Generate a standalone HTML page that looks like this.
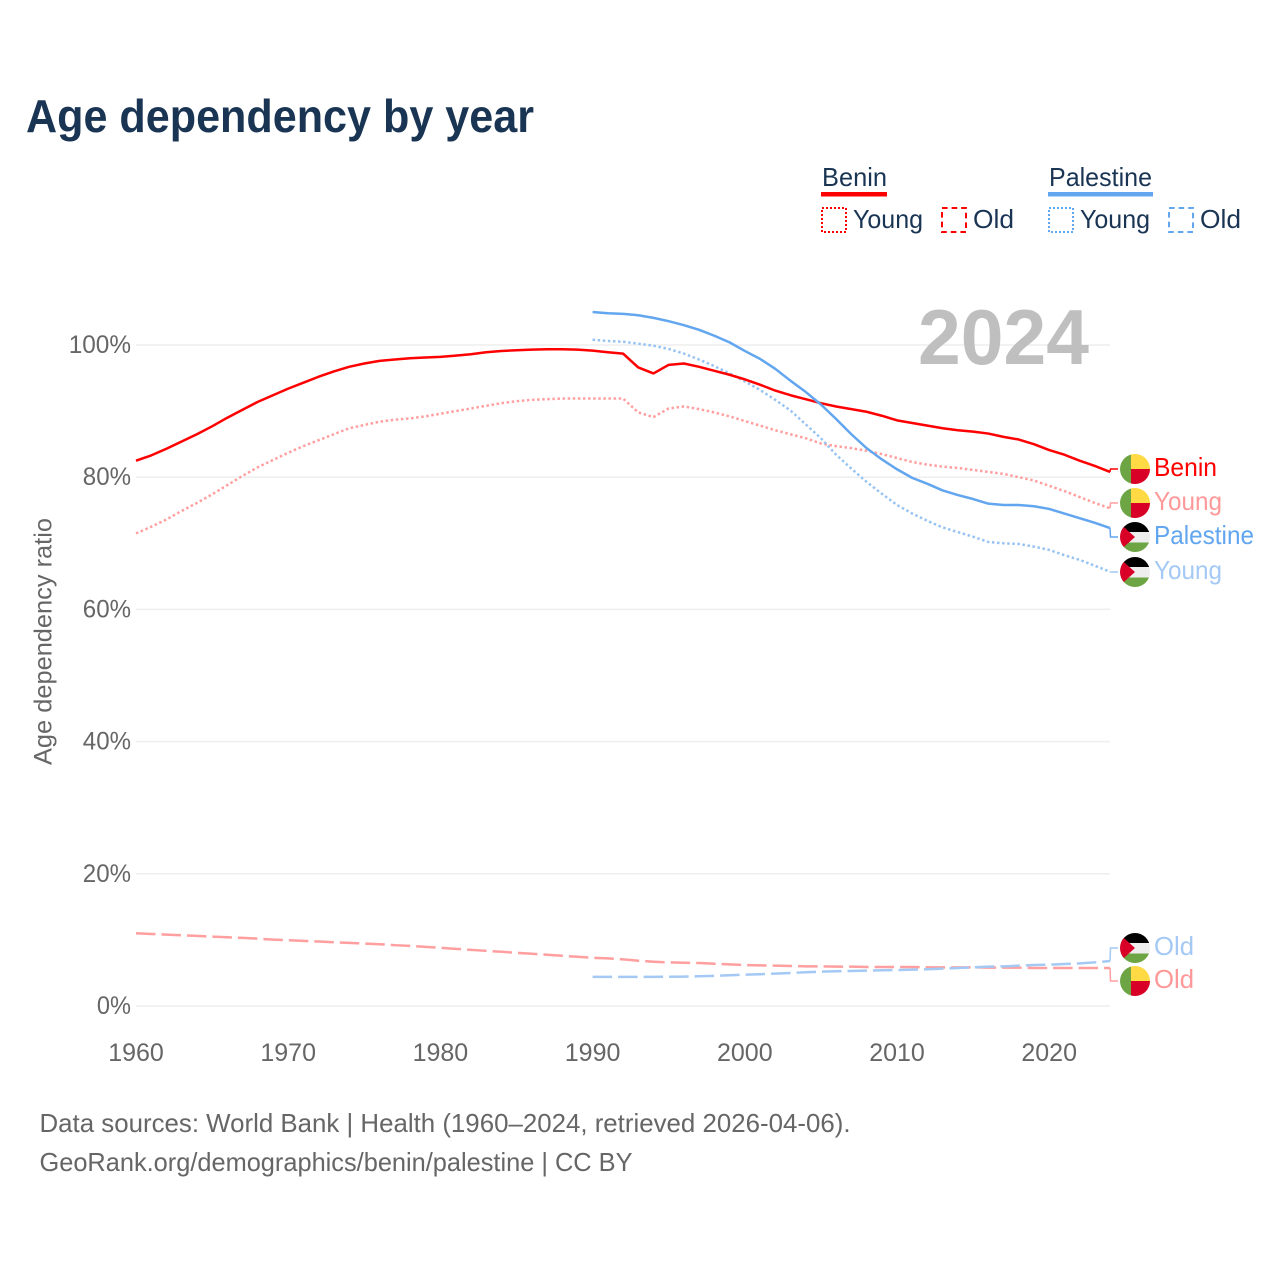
<!DOCTYPE html>
<html lang="en">
<head>
<meta charset="utf-8">
<title>Age dependency by year</title>
<style>
html,body{margin:0;padding:0;background:#fff}
svg{display:block}
text{font-family:"Liberation Sans",sans-serif}
.lg{font-size:26px;fill:#1a3554}
.tick{font-size:25px;fill:#666}
.end{font-size:26px}
.foot{font-size:26px;fill:#666}
</style>
</head>
<body>
<svg id="chart" width="1280" height="1280" viewBox="0 0 1280 1280" xmlns="http://www.w3.org/2000/svg">
  <defs>
    <clipPath id="flag-clip"><circle cx="0" cy="0" r="15"/></clipPath>
    <g id="flag-benin">
      <g clip-path="url(#flag-clip)">
        <rect x="-15" y="-15" width="11" height="30" fill="#6da544"/>
        <rect x="-4" y="-15" width="19" height="15" fill="#ffda44"/>
        <rect x="-4" y="0" width="19" height="15" fill="#d80027"/>
      </g>
    </g>
    <g id="flag-palestine">
      <g clip-path="url(#flag-clip)">
        <rect x="-15" y="-15" width="30" height="10" fill="#000"/>
        <rect x="-15" y="-5" width="30" height="10.5" fill="#eee"/>
        <rect x="-15" y="5.5" width="30" height="9.5" fill="#6da544"/>
        <path d="M-15,-15 L-14,-12.5 L0,0 L-14,12.5 L-15,15 Z" fill="#d80027"/>
      </g>
    </g>
  </defs>

  <text x="26" y="132" font-size="46" font-weight="700" fill="#1a3554" textLength="508" lengthAdjust="spacingAndGlyphs">Age dependency by year</text>

  <g>
    <g>
      <text class="lg" x="822" y="186" textLength="65" lengthAdjust="spacingAndGlyphs">Benin</text>
      <rect x="821" y="192" width="66" height="4.5" fill="#ff0000"/>
    </g>
    <g>
      <rect x="822" y="208" width="24" height="24" fill="none" stroke="#ff0000" stroke-width="2" stroke-dasharray="2 2"/>
      <text class="lg" x="853" y="228" textLength="70" lengthAdjust="spacingAndGlyphs">Young</text>
    </g>
    <g>
      <rect x="942" y="208" width="24" height="24" fill="none" stroke="#ff0000" stroke-width="2" stroke-dasharray="5.6 4"/>
      <text class="lg" x="973" y="228" textLength="41" lengthAdjust="spacingAndGlyphs">Old</text>
    </g>
    <g>
      <text class="lg" x="1049" y="186" textLength="103" lengthAdjust="spacingAndGlyphs">Palestine</text>
      <rect x="1048" y="192" width="105" height="4.5" fill="#62a6ef"/>
    </g>
    <g>
      <rect x="1049" y="208" width="24" height="24" fill="none" stroke="#62a6ef" stroke-width="2" stroke-dasharray="2 2"/>
      <text class="lg" x="1080" y="228" textLength="70" lengthAdjust="spacingAndGlyphs">Young</text>
    </g>
    <g>
      <rect x="1169" y="208" width="24" height="24" fill="none" stroke="#62a6ef" stroke-width="2" stroke-dasharray="5.6 4"/>
      <text class="lg" x="1200" y="228" textLength="41" lengthAdjust="spacingAndGlyphs">Old</text>
    </g>
  </g>

  <g id="grid"></g>
  <text x="918" y="364" font-size="78" font-weight="700" fill="#bfbfbf" textLength="171" lengthAdjust="spacingAndGlyphs">2024</text>
  <g id="y-ticks"></g>
  <g id="x-ticks"></g>
  <text transform="translate(51.5,765) rotate(-90)" x="0" y="0" font-size="25" fill="#666" textLength="247" lengthAdjust="spacingAndGlyphs">Age dependency ratio</text>

  <g id="series"></g>
  <g id="connectors"></g>

  <g>
    <use href="#flag-benin" x="1135" y="469"/>
    <text class="end" x="1154" y="476" fill="#ff0000" textLength="63" lengthAdjust="spacingAndGlyphs">Benin</text>
    <use href="#flag-benin" x="1135" y="503"/>
    <text class="end" x="1154" y="510" fill="#ff9999" textLength="68" lengthAdjust="spacingAndGlyphs">Young</text>
    <use href="#flag-palestine" x="1135" y="537"/>
    <text class="end" x="1154" y="544" fill="#62a6ef" textLength="100" lengthAdjust="spacingAndGlyphs">Palestine</text>
    <use href="#flag-palestine" x="1135" y="572"/>
    <text class="end" x="1154" y="579" fill="#a4c9f4" textLength="68" lengthAdjust="spacingAndGlyphs">Young</text>
    <use href="#flag-palestine" x="1135" y="948"/>
    <text class="end" x="1154" y="955" fill="#a4c9f4" textLength="40" lengthAdjust="spacingAndGlyphs">Old</text>
    <use href="#flag-benin" x="1135" y="981"/>
    <text class="end" x="1154" y="988" fill="#ff9999" textLength="40" lengthAdjust="spacingAndGlyphs">Old</text>
  </g>

  <text class="foot" x="39.5" y="1132" textLength="811" lengthAdjust="spacingAndGlyphs">Data sources: World Bank | Health (1960–2024, retrieved 2026-04-06).</text>
  <text class="foot" x="39.5" y="1171" textLength="593" lengthAdjust="spacingAndGlyphs">GeoRank.org/demographics/benin/palestine | CC BY</text>
</svg>

<script>
var xTickYears = [1960, 1970, 1980, 1990, 2000, 2010, 2020];
var yTickValues = [0, 20, 40, 60, 80, 100];

var beninStartYear = 1960;
var palestineStartYear = 1990;

var beninTotal = [82.5,83.3,84.3,85.4,86.5,87.7,89.0,90.2,91.4,92.4,
  93.4,94.3,95.2,96.0,96.7,97.2,97.6,97.8,98.0,98.1,
  98.2,98.4,98.6,98.9,99.1,99.2,99.3,99.35,99.35,99.3,
  99.15,98.9,98.7,96.6,95.7,97.0,97.2,96.7,96.1,95.5,
  94.8,94.0,93.1,92.4,91.8,91.2,90.7,90.3,89.9,89.3,
  88.6,88.2,87.8,87.4,87.1,86.9,86.6,86.1,85.7,85.0,
  84.1,83.4,82.5,81.7,80.8];

var beninYoung = [71.5,72.5,73.6,74.9,76.1,77.4,78.8,80.2,81.5,82.6,
  83.7,84.7,85.6,86.5,87.4,87.9,88.4,88.7,88.9,89.2,
  89.6,90.0,90.4,90.8,91.2,91.5,91.7,91.8,91.9,91.9,
  91.9,91.9,91.9,89.8,89.1,90.4,90.7,90.3,89.8,89.2,
  88.5,87.8,87.1,86.5,85.9,85.1,84.7,84.4,84.0,83.5,
  82.9,82.3,81.9,81.6,81.4,81.1,80.8,80.5,80.0,79.5,
  78.7,77.9,77.0,76.1,75.3];

var beninOld = [11.0,10.9,10.8,10.7,10.6,10.5,10.4,10.3,10.2,10.05,
  9.95,9.85,9.75,9.65,9.55,9.45,9.35,9.2,9.1,8.95,
  8.8,8.65,8.5,8.35,8.2,8.05,7.9,7.75,7.6,7.45,
  7.3,7.2,7.05,6.85,6.7,6.6,6.55,6.5,6.4,6.3,
  6.2,6.15,6.1,6.05,6.0,6.0,5.95,5.95,5.9,5.9,
  5.9,5.9,5.85,5.85,5.85,5.85,5.8,5.8,5.8,5.75,
  5.75,5.75,5.75,5.75,5.75];

var palestineTotal = [105.0,104.8,104.7,104.5,104.1,103.6,103.0,102.3,101.4,100.4,
  99.1,97.9,96.4,94.6,92.9,91.0,88.8,86.5,84.4,82.7,
  81.2,79.9,79.0,78.0,77.3,76.7,76.0,75.8,75.8,75.6,
  75.2,74.5,73.8,73.1,72.3];

var palestineYoung = [100.8,100.6,100.5,100.2,99.9,99.4,98.7,97.8,96.8,95.7,
  94.5,93.2,91.7,90.1,88.0,85.9,83.4,81.3,79.3,77.5,
  75.8,74.5,73.4,72.4,71.7,71.0,70.2,70.0,69.9,69.5,
  69.0,68.2,67.5,66.6,65.7];

var palestineOld = [4.4,4.4,4.4,4.4,4.4,4.43,4.45,4.5,4.55,4.65,
  4.75,4.8,4.9,5.0,5.1,5.2,5.25,5.3,5.35,5.4,
  5.45,5.5,5.55,5.65,5.75,5.85,5.95,6.0,6.1,6.2,
  6.25,6.35,6.45,6.6,6.8];

var SVGNS = 'http://www.w3.org/2000/svg';
function xScale(year) { return 136 + (year - 1960) * 15.22; }
function yScale(pct) { return 1006 - pct * 6.61; }

function buildPath(values, startYear) {
  var d = '';
  for (var i = 0; i < values.length; i++) {
    d += (i ? 'L' : 'M') + xScale(startYear + i).toFixed(2) + ',' + yScale(values[i]).toFixed(2);
  }
  return d;
}

var gridLayer = document.getElementById('grid');
var yTickLayer = document.getElementById('y-ticks');
yTickValues.forEach(function (v) {
  var line = document.createElementNS(SVGNS, 'line');
  
  
  line.setAttribute('x1', 136);
  line.setAttribute('x2', 1110);
  line.setAttribute('y1', yScale(v));
  line.setAttribute('y2', yScale(v));
  line.setAttribute('stroke', '#eeeeee');
  line.setAttribute('stroke-width', '1.5');
  gridLayer.appendChild(line);

  var label = document.createElementNS(SVGNS, 'text');
  
  
  label.setAttribute('class', 'tick');
  label.setAttribute('x', 131);
  label.setAttribute('y', yScale(v) + 8);
  label.setAttribute('text-anchor', 'end');
  label.setAttribute('textLength', String(v).length * 14.1 + 20);
  label.setAttribute('lengthAdjust', 'spacingAndGlyphs');
  label.textContent = v + '%';
  yTickLayer.appendChild(label);
});

var xTickLayer = document.getElementById('x-ticks');
xTickYears.forEach(function (yr) {
  var label = document.createElementNS(SVGNS, 'text');
  
  
  label.setAttribute('class', 'tick');
  label.setAttribute('x', xScale(yr));
  label.setAttribute('y', 1061);
  label.setAttribute('text-anchor', 'middle');
  label.textContent = yr;
  xTickLayer.appendChild(label);
});

var seriesLayer = document.getElementById('series');
var connectorLayer = document.getElementById('connectors');

function addLine(name, values, startYear, color, dash) {
  var p = document.createElementNS(SVGNS, 'path');
  
  
  p.setAttribute('d', buildPath(values, startYear));
  p.setAttribute('fill', 'none');
  p.setAttribute('stroke', color);
  p.setAttribute('stroke-width', '2.5');
  p.setAttribute('stroke-linejoin', 'round');
  if (dash) p.setAttribute('stroke-dasharray', dash);
  seriesLayer.appendChild(p);
}

function addConnector(name, values, labelY, color) {
  var endY = yScale(values[values.length - 1]);
  var c = document.createElementNS(SVGNS, 'path');
  
  
  c.setAttribute('d', 'M1110,' + endY.toFixed(2) + 'L1110.5,' + labelY + 'L1118,' + labelY);
  c.setAttribute('fill', 'none');
  c.setAttribute('stroke', color);
  c.setAttribute('stroke-width', '1.5');
  connectorLayer.appendChild(c);
}

addLine('line-benin-old', beninOld, beninStartYear, '#ff9f9f', '19.5 6');
addLine('line-palestine-old', palestineOld, palestineStartYear, '#a4c9f4', '19.5 6');
addLine('line-benin-young', beninYoung, beninStartYear, '#ff9f9f', '2.5 2.6');
addLine('line-palestine-young', palestineYoung, palestineStartYear, '#97c3f3', '2.5 2.6');
addLine('line-benin-total', beninTotal, beninStartYear, '#ff0000', null);
addLine('line-palestine-total', palestineTotal, palestineStartYear, '#62a6ef', null);

addConnector('connector-benin-total', beninTotal, 469, '#ff0000');
addConnector('connector-benin-young', beninYoung, 503, '#ff9f9f');
addConnector('connector-palestine-total', palestineTotal, 537, '#62a6ef');
addConnector('connector-palestine-young', palestineYoung, 572, '#a4c9f4');
addConnector('connector-palestine-old', palestineOld, 948, '#a4c9f4');
addConnector('connector-benin-old', beninOld, 981, '#ff9f9f');
</script>
</body>
</html>
